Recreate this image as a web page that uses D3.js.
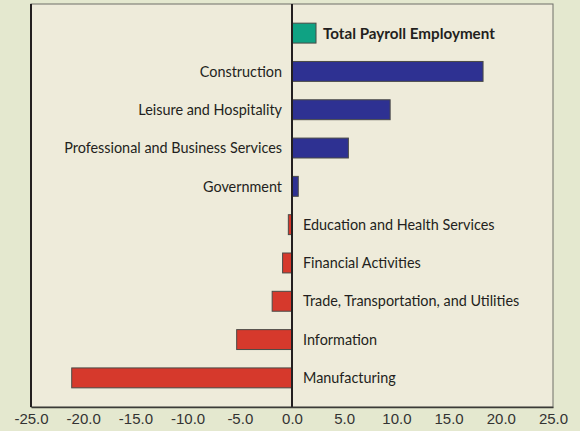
<!DOCTYPE html>
<html>
<head>
<meta charset="utf-8">
<script src="https://cdn.jsdelivr.net/npm/d3@7"></script>
<style>
  html, body { margin: 0; padding: 0; background: #e4e8cf; }
  svg { display: block; }
</style>
</head>
<body>
<svg id="chart"></svg>
<script>
// categories, top to bottom, with their values (percent change)
const categories = [
  "Total Payroll Employment",
  "Construction",
  "Leisure and Hospitality",
  "Professional and Business Services",
  "Government",
  "Education and Health Services",
  "Financial Activities",
  "Trade, Transportation, and Utilities",
  "Information",
  "Manufacturing"
]
const values = [2.3, 18.3, 9.4, 5.4, 0.6, -0.35, -0.9, -1.9, -5.3, -21.1]
const xTicks = [-25, -20, -15, -10, -5, 0, 5, 10, 15, 20, 25]

const data = categories.map((c, i) => ({name: c, value: values[i], total: i === 0}))

const width = 580, height = 431
const margin = {top: 4, right: 27, bottom: 24, left: 31}

const svg = d3.select("#chart")
    .attr("width", width)
    .attr("height", height)

const x = d3.scaleLinear()
    .domain([-25, 25])
    .range([margin.left, width - margin.right])

const y = d3.scaleBand()
    .domain(categories)
    .range([margin.top, height - margin.bottom])
    .paddingInner(0.48)
    .paddingOuter(0.5)

// panel
svg.append("rect")
    .attr("x", x(-25)).attr("y", margin.top)
    .attr("width", x(25) - x(-25))
    .attr("height", height - margin.bottom - margin.top)
    .attr("fill", "#eeebda")
    .attr("stroke", "#6e6e68")
    .attr("stroke-width", 1)

// left border heavier
svg.append("line")
    .attr("x1", x(-25)).attr("x2", x(-25))
    .attr("y1", margin.top).attr("y2", height - margin.bottom)
    .attr("stroke", "#231f20").attr("stroke-width", 2)

// bars
svg.append("g")
  .selectAll("rect")
  .data(data)
  .join("rect")
    .attr("x", d => x(Math.min(0, d.value)))
    .attr("y", d => y(d.name))
    .attr("width", d => Math.abs(x(d.value) - x(0)))
    .attr("height", y.bandwidth())
    .attr("fill", d => d.total ? "#0fa283" : d.value >= 0 ? "#2e3192" : "#d6392c")
    .attr("stroke", "#4a4a46")
    .attr("stroke-width", 1)

// zero line
svg.append("line")
    .attr("x1", x(0)).attr("x2", x(0))
    .attr("y1", margin.top).attr("y2", height - margin.bottom)
    .attr("stroke", "#231f20").attr("stroke-width", 2)

// category labels
svg.append("g")
    .attr("font-family", "Lato, sans-serif")
    .attr("fill", "#231f20")
  .selectAll("text")
  .data(data)
  .join("text")
    .attr("y", d => y(d.name) + y.bandwidth() / 2)
    .attr("dy", "0.36em")
    .attr("x", d => d.total ? x(d.value) + 7 : d.value >= 0 ? x(0) - 10 : x(0) + 11)
    .attr("text-anchor", d => d.total || d.value < 0 ? "start" : "end")
    .attr("font-weight", d => d.total ? "bold" : null)
    .attr("font-size", d => d.total ? 15.2 : 14.4)
    .text(d => d.name)

// x axis, plain hyphen for the minus sign
const fmt = d => d3.format(".1f")(d).replace("\u2212", "-")

const xAxis = g => g
    .attr("transform", `translate(0,${height - margin.bottom})`)
    .call(d3.axisBottom(x).tickValues(xTicks).tickFormat(fmt).tickSize(0).tickPadding(6))
    .call(g => g.select(".domain").attr("stroke", "#3a3a36").attr("stroke-width", 1.5))
    .call(g => g.selectAll("text")
        .attr("font-family", "Liberation Sans, Arial, sans-serif")
        .attr("font-size", 15)
        .attr("fill", "#333"))

svg.append("g").call(xAxis)
</script>
</body>
</html>
